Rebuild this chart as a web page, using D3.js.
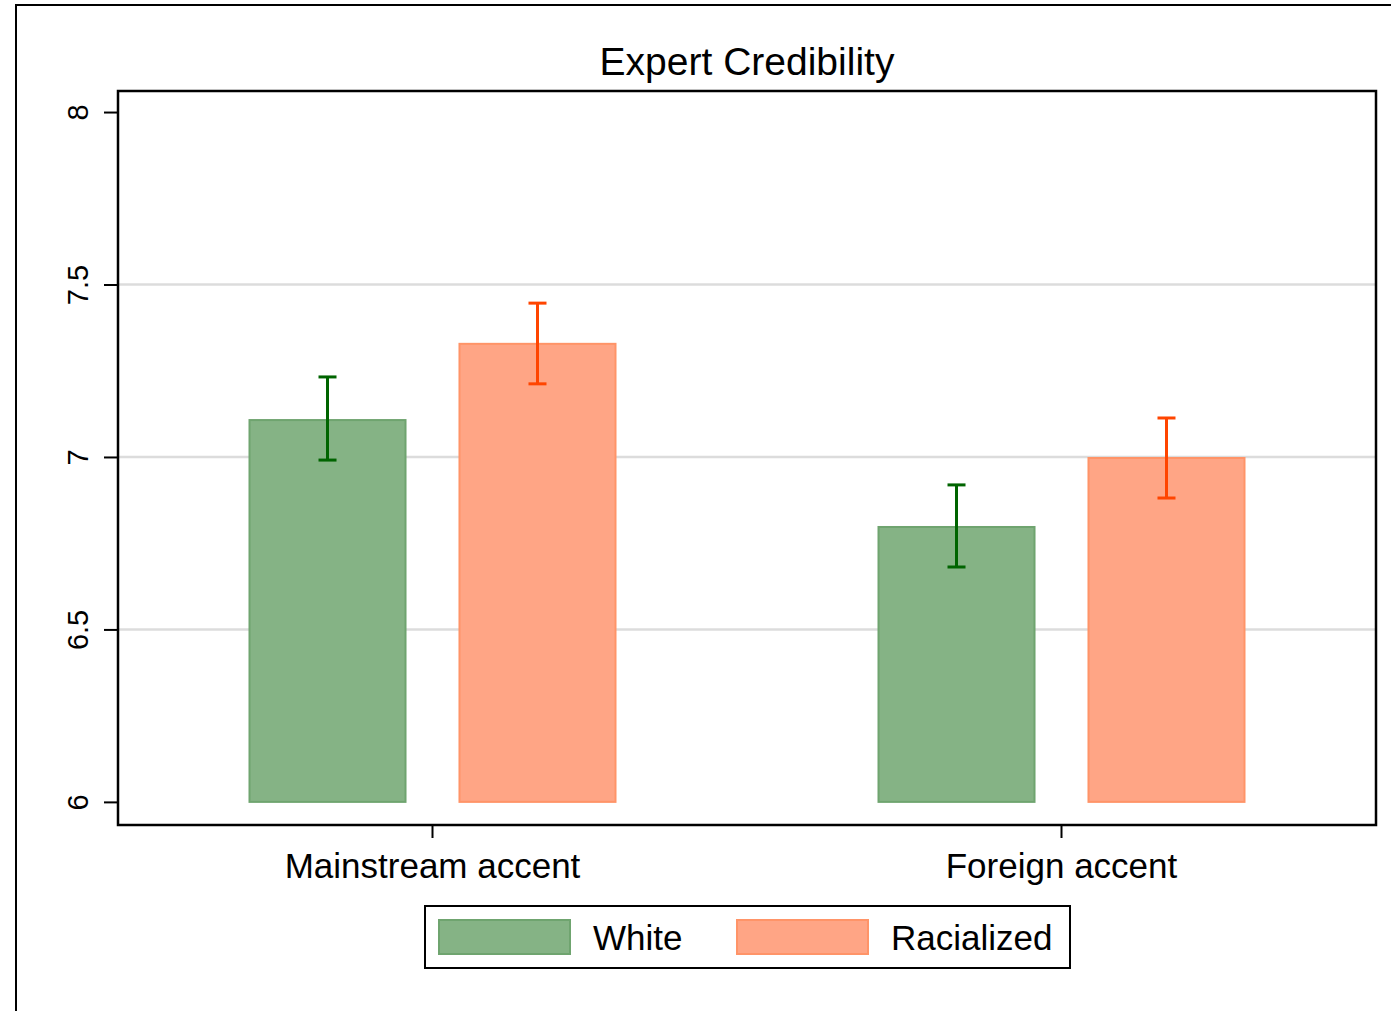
<!DOCTYPE html>
<html>
<head>
<meta charset="utf-8">
<script src="https://cdn.jsdelivr.net/npm/d3@7"></script>
<style>
  html, body { margin: 0; padding: 0; background: #fff; }
  svg { display: block; font-family: "Liberation Sans", Arial, Helvetica, sans-serif; }
</style>
</head>
<body>
<svg id="chart" width="1391" height="1011"></svg>
<script>
// Expert credibility by accent and speaker group
const categories = ["Mainstream accent", "Foreign accent"];
const groups = ["White", "Racialized"];
const whiteMeans = [7.107, 6.797];
const whiteLower = [6.991, 6.681];
const whiteUpper = [7.232, 6.919];
const racializedMeans = [7.328, 6.997];
const racializedLower = [7.212, 6.881];
const racializedUpper = [7.446, 7.113];
const yTicks = [6, 6.5, 7, 7.5, 8];
const gridValues = [6.5, 7, 7.5];

const series = [
  { name: groups[0], means: whiteMeans, lo: whiteLower, hi: whiteUpper,
    fill: "#85b385", stroke: "#6fa46f", err: "#006400" },
  { name: groups[1], means: racializedMeans, lo: racializedLower, hi: racializedUpper,
    fill: "#ffa585", stroke: "#ff9468", err: "#ff4500" }
];

const svg = d3.select("#chart");
const W = 1391, H = 1011;
const plot = { left: 118, top: 91, right: 1376, bottom: 825 };

// Outer graph frame (extends past the canvas on the right and bottom)
svg.append("path")
  .attr("d", `M16,${H + 5} L16,5 L${W + 5},5`)
  .attr("fill", "none").attr("stroke", "#000").attr("stroke-width", 2);

const y = d3.scaleLinear().domain([5.933, 8.061]).range([plot.bottom, plot.top]);
const x = d3.scaleBand().domain(categories).range([plot.left, plot.right]).paddingInner(0).paddingOuter(0);
const groupWidth = 366;
const xs = d3.scaleBand().domain(groups).range([0, groupWidth]).paddingInner(0.257);

// Title
svg.append("text")
  .attr("x", 747).attr("y", 75)
  .attr("text-anchor", "middle")
  .attr("font-size", 39)
  .text("Expert Credibility");

// Gridlines
svg.append("g").selectAll("line").data(gridValues).join("line")
  .attr("x1", plot.left).attr("x2", plot.right)
  .attr("y1", d => y(d)).attr("y2", d => y(d))
  .attr("stroke", "#dcdcdc").attr("stroke-width", 2.5);

// Bars and error bars
const groupOffset = c => x(c) + x.bandwidth() / 2 - groupWidth / 2;
series.forEach(s => {
  const g = svg.append("g");
  g.selectAll("rect").data(categories).join("rect")
    .attr("x", (c) => groupOffset(c) + xs(s.name))
    .attr("width", xs.bandwidth())
    .attr("y", (c, i) => y(s.means[i]))
    .attr("height", (c, i) => y(6) - y(s.means[i]))
    .attr("fill", s.fill).attr("stroke", s.stroke).attr("stroke-width", 2);
  const cx = c => groupOffset(c) + xs(s.name) + xs.bandwidth() / 2;
  const eb = g.selectAll("g.err").data(categories).join("g").attr("class", "err")
    .attr("stroke", s.err).attr("stroke-width", 3);
  eb.append("line").attr("x1", cx).attr("x2", cx)
    .attr("y1", (c, i) => y(s.hi[i])).attr("y2", (c, i) => y(s.lo[i]));
  eb.append("line").attr("x1", c => cx(c) - 9).attr("x2", c => cx(c) + 9)
    .attr("y1", (c, i) => y(s.hi[i])).attr("y2", (c, i) => y(s.hi[i]));
  eb.append("line").attr("x1", c => cx(c) - 9).attr("x2", c => cx(c) + 9)
    .attr("y1", (c, i) => y(s.lo[i])).attr("y2", (c, i) => y(s.lo[i]));
});

// Plot frame
svg.append("rect")
  .attr("x", plot.left).attr("y", plot.top)
  .attr("width", plot.right - plot.left).attr("height", plot.bottom - plot.top)
  .attr("fill", "none").attr("stroke", "#000").attr("stroke-width", 2.5);

// Y axis
const yAxis = svg.append("g")
  .attr("transform", `translate(${plot.left},0)`)
  .call(d3.axisLeft(y).tickValues(yTicks).tickFormat(d3.format("~g")).tickSize(14).tickPadding(0));
yAxis.select(".domain").remove();
yAxis.selectAll(".tick line").attr("stroke", "#000").attr("stroke-width", 2);
yAxis.selectAll(".tick text")
  .attr("font-size", 29)
  .attr("fill", "#000")
  .attr("text-anchor", "middle")
  .attr("transform", "translate(-40,0) rotate(-90)")
  .attr("x", 0).attr("dy", "0.35em");

// X axis
const xAxis = svg.append("g")
  .attr("transform", `translate(0,${plot.bottom})`)
  .call(d3.axisBottom(x).tickSize(13).tickPadding(7));
xAxis.select(".domain").remove();
xAxis.selectAll(".tick line").attr("stroke", "#000").attr("stroke-width", 2);
xAxis.selectAll(".tick text").attr("font-size", 35).attr("fill", "#000").attr("dy", "0.95em");

// Legend
const legend = svg.append("g");
legend.append("rect")
  .attr("x", 425).attr("y", 906).attr("width", 645).attr("height", 62)
  .attr("fill", "#fff").attr("stroke", "#000").attr("stroke-width", 2);
const legendX = [439, 737];
series.forEach((s, i) => {
  legend.append("rect")
    .attr("x", legendX[i]).attr("y", 920).attr("width", 131).attr("height", 34)
    .attr("fill", s.fill).attr("stroke", s.stroke).attr("stroke-width", 2);
  legend.append("text")
    .attr("x", legendX[i] + 154).attr("y", 950)
    .attr("font-size", 35)
    .text(s.name);
});
</script>
</body>
</html>
